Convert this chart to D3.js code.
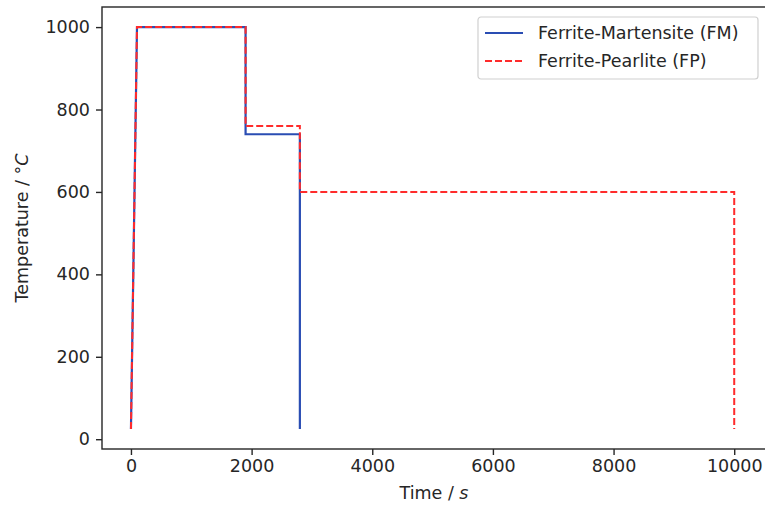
<!DOCTYPE html>
<html>
<head>
<meta charset="utf-8">
<script src="https://d3js.org/d3.v7.min.js"></script>
<style>
  body { margin: 0; background: #fff; }
  text { font-family: "DejaVu Sans", sans-serif; fill: #262626; }
</style>
</head>
<body>
<div id="chart"></div>
<script>
// heat treatment profiles (time in s, temperature in °C)
var fmTime = [0, 100, 1900, 1900, 2800, 2800];
var fmTemp = [25, 1000, 1000, 740, 740, 25];
var fpTime = [0, 100, 1900, 1900, 2800, 2800, 10000, 10000];
var fpTemp = [25, 1000, 1000, 760, 760, 600, 600, 25];
var xTicks = [0, 2000, 4000, 6000, 8000, 10000];
var yTicks = [0, 200, 400, 600, 800, 1000];
var seriesNames = ["Ferrite-Martensite (FM)", "Ferrite-Pearlite (FP)"];

var W = 765, H = 505;
var margin = {top: 7, right: -3, bottom: 56, left: 102};
var width = W - margin.left - margin.right,
    height = H - margin.top - margin.bottom;

var svg = d3.select("#chart").append("svg")
    .attr("width", W).attr("height", H);
var g = svg.append("g")
    .attr("transform", "translate(" + margin.left + "," + margin.top + ")");

var x = d3.scaleLinear().domain([-480, 10560]).range([0, width]);
var y = d3.scaleLinear().domain([-23.75, 1048.75]).range([height, 0]);

var fm = fmTime.map(function(t, i) { return {t: t, v: fmTemp[i]}; });
var fp = fpTime.map(function(t, i) { return {t: t, v: fpTemp[i]}; });

var line = d3.line()
    .x(function(d) { return x(d.t); })
    .y(function(d) { return y(d.v); });

g.append("path").datum(fm)
    .attr("fill", "none").attr("stroke", "#2a4db3").attr("stroke-width", 2.2)
    .attr("d", line);
g.append("path").datum(fp)
    .attr("fill", "none").attr("stroke", "#ff2b2b").attr("stroke-width", 2)
    .attr("stroke-dasharray", "7,3")
    .attr("d", line);

// axes
var xAxis = g.append("g")
    .attr("transform", "translate(0," + height + ")")
    .call(d3.axisBottom(x).tickValues(xTicks).tickSize(6).tickPadding(5).tickFormat(d3.format("d")));
var yAxis = g.append("g")
    .call(d3.axisLeft(y).tickValues(yTicks).tickSize(6).tickPadding(6).tickFormat(d3.format("d")));
[xAxis, yAxis].forEach(function(a) {
  a.selectAll("text").style("font-size", "17.5px").style("font-family", "DejaVu Sans").attr("fill", "#262626");
  a.selectAll("line").attr("stroke", "#262626").attr("stroke-width", 1.4);
  a.select(".domain").remove();
});

// frame
g.append("rect")
    .attr("x", 0).attr("y", 0).attr("width", width).attr("height", height)
    .attr("fill", "none").attr("stroke", "#262626").attr("stroke-width", 1.4);

// axis labels
var xl = svg.append("text")
    .attr("x", 434).attr("y", 499)
    .attr("text-anchor", "middle").style("font-size", "17.5px");
xl.append("tspan").text("Time / ");
xl.append("tspan").style("font-style", "italic").text("s");

var yl = svg.append("text")
    .attr("transform", "translate(28," + (margin.top + height / 2) + ") rotate(-90)")
    .attr("text-anchor", "middle").style("font-size", "17.5px");
yl.append("tspan").text("Temperature / °");
yl.append("tspan").style("font-style", "italic").text("C");

// legend
var lg = svg.append("g").attr("transform", "translate(478,17)");
lg.append("rect")
    .attr("width", 280).attr("height", 62).attr("rx", 3)
    .attr("fill", "#fff").attr("fill-opacity", 0.8)
    .attr("stroke", "#d0d0d0").attr("stroke-width", 1.2);
var styles = [{c: "#2a4db3", d: null, w: 2.2}, {c: "#ff2b2b", d: "7,3", w: 2}];
seriesNames.forEach(function(name, i) {
  var yy = 16 + i * 28;
  lg.append("line")
      .attr("x1", 7).attr("x2", 45).attr("y1", yy).attr("y2", yy)
      .attr("stroke", styles[i].c).attr("stroke-width", styles[i].w)
      .attr("stroke-dasharray", styles[i].d);
  lg.append("text")
      .attr("x", 60).attr("y", yy).attr("dy", "0.35em")
      .style("font-size", "17.5px").text(name);
});
</script>
</body>
</html>
